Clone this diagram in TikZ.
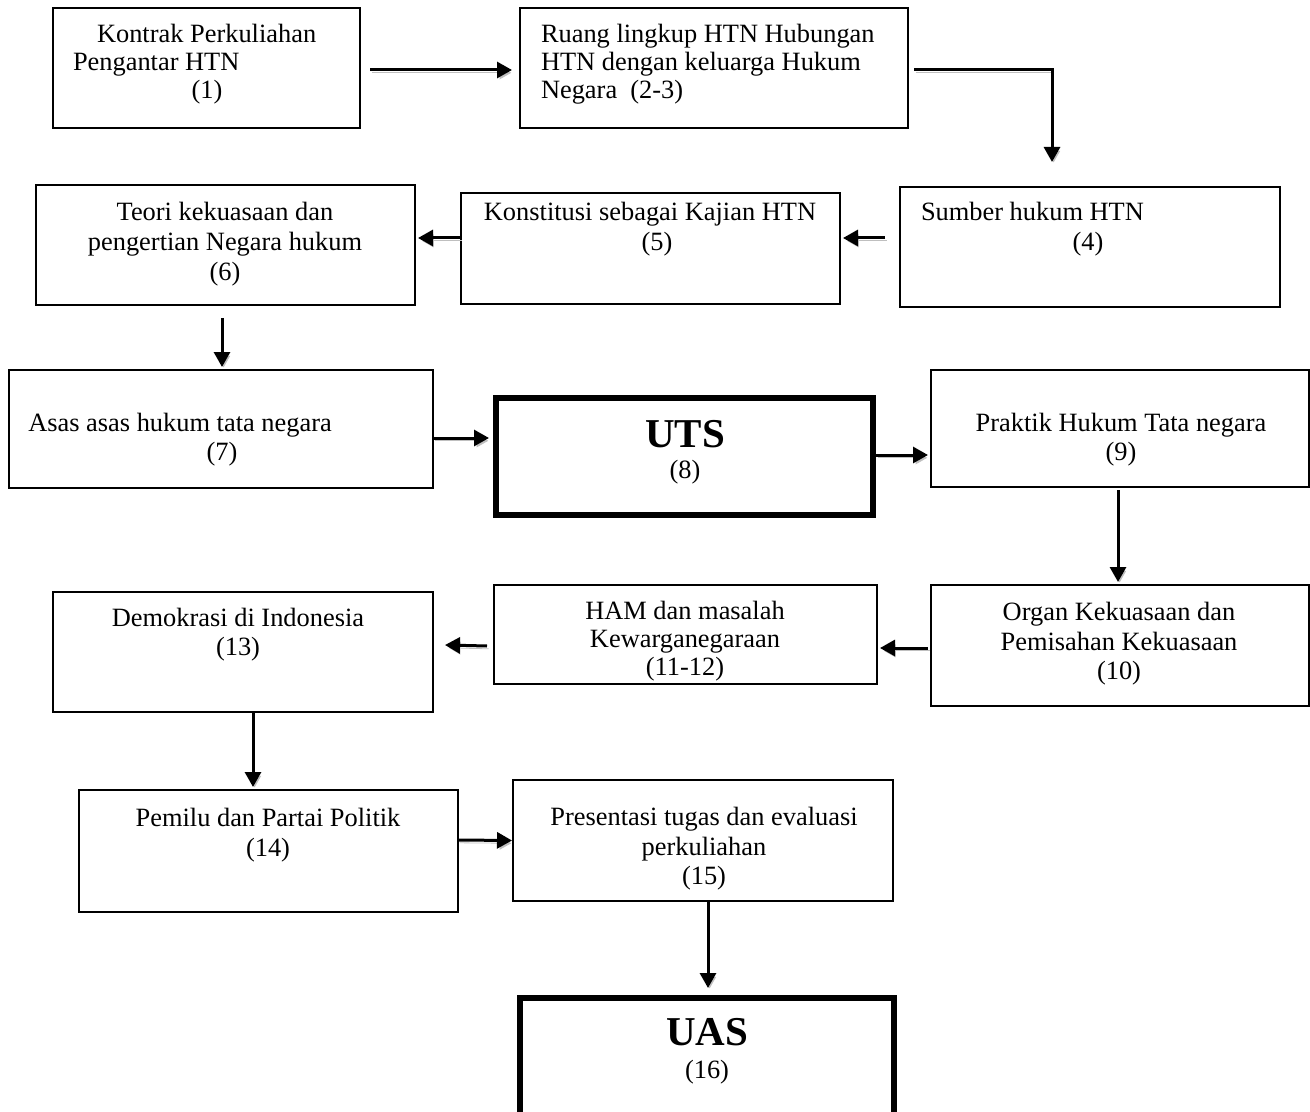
\documentclass[tikz,border=0pt]{standalone}
\usepackage{fontspec}
\setmainfont{Liberation Serif}
\usetikzlibrary{arrows.meta}
\begin{document}
\begin{tikzpicture}[x=0.5pt,y=-0.5pt,
  box/.style={draw,line width=0.8pt,outer sep=0pt,inner sep=0pt},
  bigbox/.style={draw,line width=3pt,outer sep=0pt,inner sep=0pt},
  txt/.style={inner sep=0pt,outer sep=0pt,font=\fontsize{13.2}{15}\selectfont},
  big/.style={inner sep=0pt,outer sep=0pt,font=\fontsize{20.5}{24}\selectfont\bfseries},
  arr/.style={line width=1.5pt,-{Triangle[length=7.5pt,width=8pt]},
    preaction={draw=black!25,transform canvas={shift={(0.8pt,-1.4pt)}}}}]
\useasboundingbox (0,0) rectangle (1310,1112);
\clip (0,0) rectangle (1310,1112);
\fill[white] (0,0) rectangle (1310,1112);

% boxes
\node[box,minimum width=153.5pt,minimum height=60pt] (b1) at (206.5,68) {};
\node[box,minimum width=194pt,minimum height=60pt] (b2) at (714,68) {};
\node[box,minimum width=190pt,minimum height=60pt] (b4) at (1090,247) {};
\node[box,minimum width=189.5pt,minimum height=55.5pt] (b5) at (650.5,248.5) {};
\node[box,minimum width=189.5pt,minimum height=60pt] (b6) at (225.5,245) {};
\node[box,minimum width=212pt,minimum height=59pt] (b7) at (221,429) {};
\node[bigbox,minimum width=188.5pt,minimum height=58.5pt] (b8) at (684.5,456.5) {};
\node[box,minimum width=189pt,minimum height=58.5pt] (b9) at (1120,428.5) {};
\node[box,minimum width=189pt,minimum height=60.5pt] (b10) at (1120,645.5) {};
\node[box,minimum width=191.5pt,minimum height=49.5pt] (b11) at (685.5,634.5) {};
\node[box,minimum width=190pt,minimum height=60pt] (b13) at (243,652) {};
\node[box,minimum width=189.5pt,minimum height=61pt] (b14) at (268.5,851) {};
\node[box,minimum width=190pt,minimum height=60.5pt] (b15) at (703,840.5) {};
\node[bigbox,minimum width=187pt,minimum height=71pt] (b16) at (707,1069) {};

% texts
\node[txt,anchor=base west] (t1a) at (97,43) {Kontrak Perkuliahan};
\node[txt,anchor=base west] (t1b) at (73,71) {Pengantar HTN};
\node[txt,anchor=base] (t1c) at (207,99) {(1)};

\node[txt,anchor=base west] (t2a) at (541,43) {Ruang lingkup HTN Hubungan};
\node[txt,anchor=base west] (t2b) at (541,71) {HTN dengan keluarga Hukum};
\node[txt,anchor=base west] (t2c) at (541,99) {Negara\ \ (2-3)};

\node[txt,anchor=base west] (t4a) at (921,221) {Sumber hukum HTN};
\node[txt,anchor=base] (t4b) at (1088,251) {(4)};

\node[txt,anchor=base] (t5a) at (650,221) {Konstitusi sebagai Kajian HTN};
\node[txt,anchor=base] (t5b) at (657,251) {(5)};

\node[txt,anchor=base] (t6a) at (225,221) {Teori kekuasaan dan};
\node[txt,anchor=base] (t6b) at (225,251) {pengertian Negara hukum};
\node[txt,anchor=base] (t6c) at (225,281) {(6)};

\node[txt,anchor=base] (t7a) at (180,431) {Asas asas hukum tata negara};
\node[txt,anchor=base] (t7b) at (222,460) {(7)};

\node[big,anchor=base] (t8a) at (685,447) {UTS};
\node[txt,anchor=base] (t8b) at (685,478) {(8)};

\node[txt,anchor=base] (t9a) at (1121,431) {Praktik Hukum Tata negara};
\node[txt,anchor=base] (t9b) at (1121,460) {(9)};

\node[txt,anchor=base] (t10a) at (1119,620) {Organ Kekuasaan dan};
\node[txt,anchor=base] (t10b) at (1119,650) {Pemisahan Kekuasaan};
\node[txt,anchor=base] (t10c) at (1119,679) {(10)};

\node[txt,anchor=base] (t11a) at (685,619) {HAM dan masalah};
\node[txt,anchor=base] (t11b) at (685,647) {Kewarganegaraan};
\node[txt,anchor=base] (t11c) at (685,675) {(11-12)};

\node[txt,anchor=base] (t13a) at (238,626) {Demokrasi di Indonesia};
\node[txt,anchor=base] (t13b) at (238,655) {(13)};

\node[txt,anchor=base] (t14a) at (268,826) {Pemilu dan Partai Politik};
\node[txt,anchor=base] (t14b) at (268,856) {(14)};

\node[txt,anchor=base] (t15a) at (704,825) {Presentasi tugas dan evaluasi};
\node[txt,anchor=base] (t15b) at (704,855) {perkuliahan};
\node[txt,anchor=base] (t15c) at (704,884) {(15)};

\node[big,anchor=base] (t16a) at (707,1045) {UAS};
\node[txt,anchor=base] (t16b) at (707,1078) {(16)};

% connectors
\coordinate (c24) at (1052,162);
\draw[arr] ([xshift=5pt,yshift=-1pt]b1.east) -- ([xshift=-4pt,yshift=-1pt]b2.west);
\draw[arr] ([xshift=3pt,yshift=-1pt]b2.east) -| (c24);
\draw[arr] ([xshift=-7.5pt,yshift=4.5pt]b4.west) -- ([xshift=1.5pt,yshift=5.25pt]b5.east);
\draw[arr] ([xshift=-0.5pt,yshift=5.25pt]b5.west) -- ([xshift=1.5pt,yshift=3.5pt]b6.east);
\draw[arr] ([xshift=-1.75pt,yshift=-6.5pt]b6.south) -- ([xshift=0.5pt,yshift=1.5pt]b7.north);
\draw[arr] ([yshift=-4.5pt]b7.east) -- ([xshift=-3.5pt,yshift=9.25pt]b8.west);
\draw[arr] ([xshift=1.5pt,yshift=0.75pt]b8.east) -- ([xshift=-1.5pt,yshift=-13.25pt]b9.west);
\draw[arr] ([xshift=-1pt,yshift=-1.5pt]b9.south) -- ([xshift=-1pt,yshift=1.5pt]b10.north);
\draw[arr] ([xshift=-1.5pt,yshift=-1.25pt]b10.west) -- ([xshift=1.5pt,yshift=-6.75pt]b11.east);
\draw[arr] ([xshift=-3.5pt,yshift=-5.75pt]b11.west) -- ([xshift=6pt,yshift=3.5pt]b13.east);
\draw[arr] ([xshift=5pt]b13.south) -- ([xshift=-7.75pt,yshift=1.5pt]b14.north);
\draw[arr] ([yshift=5.5pt]b14.east) -- ([xshift=-0.5pt]b15.west);
\draw[arr] ([xshift=2.5pt]b15.south) -- ([xshift=0.5pt,yshift=5pt]b16.north);
\end{tikzpicture}
\end{document}
